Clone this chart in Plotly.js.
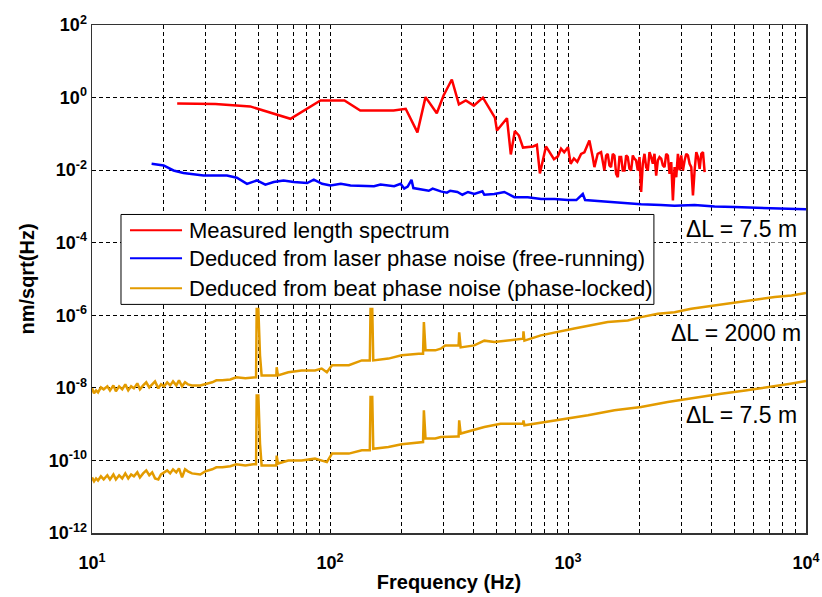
<!DOCTYPE html>
<html>
<head>
<meta charset="utf-8">
<script src="https://cdn.plot.ly/plotly-3.0.1.min.js"></script>
<style>html,body{margin:0;padding:0;background:#fff;}#chart{width:822px;height:597px;}</style>
</head>
<body>
<div id="chart"></div>
<script>
// Measured length spectrum (red)
var redFreq = [22.8, 28.5, 33, 46.2, 68.2, 91.2, 115, 134, 185, 208, 233, 252, 281, 300, 325, 348, 372, 402, 439, 493, 503, 554, 575, 598, 622, 647, 713, 740, 762, 808, 840, 873, 907,
  935, 964, 1000, 1026, 1059, 1094, 1135, 1172, 1230, 1270,
  1291, 1333, 1377, 1422, 1446, 1469, 1493, 1517, 1542, 1567, 1593, 1619, 1645, 1672, 1699, 1727, 1755, 1783, 1812, 1842, 1872, 1902, 1933, 1965, 1997, 2029, 2062, 2096, 2130, 2165, 2200, 2236, 2272, 2309, 2347, 2385, 2424, 2464, 2504, 2545, 2586, 2628, 2671, 2715, 2759, 2804, 2850, 2896, 2943, 2991, 3040, 3090, 3140, 3191, 3243, 3296, 3350, 3404, 3460, 3516, 3574, 3632, 3691, 3751];
var redVal = [0.69, 0.69, 0.66, 0.57, 0.26, 0.83, 0.83, 0.44, 0.44, 0.49, 0.11, 1.03, 0.37, 1.14, 3.15, 0.65, 0.83, 0.6, 1.0, 0.28, 0.124, 0.27, 0.027, 0.12, 0.09, 0.042, 0.045, 0.05, 0.0081, 0.045, 0.031, 0.02, 0.024,
  0.039, 0.031, 0.043, 0.015, 0.021, 0.017, 0.028, 0.031, 0.066, 0.023,
  0.0121, 0.0282, 0.0314, 0.0098, 0.0254, 0.0282, 0.0135, 0.0121, 0.0282, 0.0254, 0.0079, 0.0064, 0.0229, 0.0229, 0.0098, 0.0098, 0.0254, 0.0229, 0.0109, 0.0098, 0.0254, 0.0206, 0.0185, 0.0098, 0.0229, 0.0025, 0.015, 0.0282, 0.0121, 0.0098, 0.0314, 0.0229, 0.015, 0.0282, 0.0071, 0.0185, 0.0229, 0.0206, 0.0135, 0.0121, 0.0282, 0.0254, 0.0079, 0.0166, 0.00146, 0.0121, 0.0064, 0.0282, 0.0098, 0.0254, 0.0098, 0.0185, 0.0282, 0.0254, 0.015, 0.0121, 0.002, 0.0098, 0.0314, 0.0229, 0.0109, 0.0282, 0.0314, 0.0088];

// Deduced from laser phase noise, free-running (blue)
var blueFreq = [17.8, 20, 22, 24.2, 29.4, 36.9, 40.6, 44.8, 49.3, 53.5, 58, 63.8, 70.4, 80.2, 85.5, 92.7, 100.5, 111, 122, 153, 163, 186, 198, 205, 212, 220, 224, 248, 260, 270, 292, 310, 320, 343, 360, 380, 404, 437, 445, 490, 540, 595, 677, 771, 877, 1000, 1084, 1154, 1180, 1377, 1671, 2028, 2460, 2803, 3401, 4130, 5010, 6090, 7390, 8970, 10000];
var blueVal = [0.015, 0.0135, 0.0098, 0.0083, 0.0071, 0.0071, 0.0062, 0.0042, 0.0052, 0.004, 0.0047, 0.0052, 0.0047, 0.0044, 0.0055, 0.0042, 0.0038, 0.0042, 0.0038, 0.0036, 0.004, 0.0036, 0.0042, 0.0031, 0.0035, 0.0054, 0.0032, 0.0029, 0.0027, 0.0031, 0.0026, 0.0024, 0.0027, 0.0025, 0.0021, 0.0025, 0.0022, 0.0026, 0.0021, 0.0022, 0.0025, 0.0018, 0.0018, 0.0016, 0.0016, 0.0015, 0.0015, 0.0022, 0.0015, 0.0014, 0.00126, 0.00114, 0.0011, 0.00105, 0.0011, 0.001, 0.00096, 0.00092, 0.00088, 0.00085, 0.00083];

// Deduced from beat phase noise, phase-locked, dL = 2000 m (orange, upper)
var beat2000Freq = [10, 10.2, 10.4, 10.6, 10.9, 11.2, 11.6, 11.9, 12.3, 12.6, 13.0, 13.4, 13.8, 14.2, 14.6, 15.0, 15.5, 15.9, 16.4, 16.9, 17.4, 17.9, 18.4, 19.0, 19.5, 20.1, 20.7, 21.3, 21.9, 22.6, 23.2, 23.9, 24.6, 25.3, 26.3, 28.5, 29.9, 32.0, 33.3, 35.3, 38.1, 40.4, 44.1, 47.6, 48.9,
  49.2, 50, 50.8, 51.6, 56, 59.5, 59.7, 60.4, 66.8, 76, 86.5, 92.3, 97, 102, 120, 136, 147, 148, 150.5, 152, 176, 200, 236, 246, 248, 252, 277, 292, 305, 343, 347, 349, 354, 404, 445, 490, 557, 634, 648, 650, 656, 769, 904, 1062, 1250, 1469, 1783, 2028, 2385, 2803, 3294, 3873, 4552, 5350, 6290, 7390, 8690, 10000];
var beat2000Val = [9.7e-9, 7.05e-9, 8.5e-9, 7.5e-9, 1.03e-8, 9.1e-9, 1.1e-8, 8.5e-9, 1.17e-8, 8.0e-9, 1.1e-8, 9.1e-9, 1.25e-8, 8.5e-9, 1.1e-8, 9.7e-9, 1.33e-8, 9.1e-9, 1.17e-8, 1.42e-8, 1.03e-8, 1.25e-8, 1.51e-8, 9.7e-9, 1.25e-8, 1.1e-8, 1.42e-8, 1.17e-8, 1.51e-8, 1.17e-8, 1.61e-8, 1.1e-8, 1.42e-8, 1.25e-8, 1.17e-8, 1.17e-8, 1.25e-8, 1.42e-8, 1.61e-8, 1.61e-8, 1.71e-8, 1.95e-8, 1.83e-8, 1.95e-8, 1.95e-8,
  1.5e-6, 1.5e-6, 7.9e-8, 2.2e-8, 2.2e-8, 2.2e-8, 3.7e-8, 2.2e-8, 2.7e-8, 3.0e-8, 3.0e-8, 3.4e-8, 2.7e-8, 4.2e-8, 4.2e-8, 5.7e-8, 5.7e-8, 1.5e-6, 1.5e-6, 5.7e-8, 6.4e-8, 7.9e-8, 8.7e-8, 8.7e-8, 6.5e-7, 1.08e-7, 1.08e-7, 1.2e-7, 1.48e-7, 1.48e-7, 1.48e-7, 3.4e-7, 1.3e-7, 1.48e-7, 2.0e-7, 1.83e-7, 2.0e-7, 2.26e-7, 2.26e-7, 3.6e-7, 2.0e-7, 2.8e-7, 3.4e-7, 4.3e-7, 5.3e-7, 6.5e-7, 7.2e-7, 8.9e-7, 1.1e-6, 1.22e-6, 1.52e-6, 1.76e-6, 2.08e-6, 2.3e-6, 2.7e-6, 3.2e-6, 3.5e-6, 4.1e-6];

// Deduced from beat phase noise, phase-locked, dL = 7.5 m (orange, lower)
var beat75Freq = [10, 10.2, 10.4, 10.6, 10.9, 11.2, 11.6, 11.9, 12.3, 12.6, 13.0, 13.4, 13.8, 14.2, 14.6, 15.0, 15.5, 15.9, 16.4, 16.9, 17.4, 17.9, 18.4, 19.0, 19.5, 20.1, 20.7, 21.3, 21.9, 22.6, 23.2, 23.9, 24.6, 25.3, 26.3, 28.5, 29.9, 32.0, 33.3, 35.3, 38.1, 40.4, 44.1, 47.6, 48.9,
  49.2, 50, 50.8, 51.6, 56, 59.5, 59.7, 60.4, 66.8, 76, 86.5, 97, 102, 120, 136, 147, 148, 150.5, 152, 176, 200, 236, 246, 248, 252, 277, 292, 343, 347, 349, 354, 445, 521, 648, 650, 656, 797, 1000, 1213, 1568, 2028, 2624, 3400, 4400, 5560, 7080, 8600, 10000];
var beat75Val = [3.4e-11, 2.65e-11, 3.2e-11, 2.8e-11, 3.65e-11, 3.0e-11, 3.9e-11, 3.0e-11, 4.1e-11, 3.0e-11, 3.9e-11, 3.2e-11, 4.4e-11, 3.2e-11, 4.1e-11, 3.65e-11, 4.7e-11, 3.4e-11, 4.4e-11, 5.3e-11, 3.9e-11, 4.7e-11, 3.2e-11, 3.0e-11, 4.1e-11, 4.7e-11, 5.3e-11, 4.4e-11, 5.7e-11, 4.7e-11, 6.05e-11, 3.4e-11, 5.7e-11, 5.0e-11, 4.4e-11, 4.1e-11, 5.0e-11, 5.7e-11, 6.45e-11, 6.45e-11, 6.9e-11, 7.8e-11, 7.3e-11, 7.8e-11, 7.8e-11,
  6.2e-9, 6.2e-9, 2.9e-10, 7.3e-11, 7.3e-11, 7.3e-11, 1.36e-10, 8.2e-11, 1.0e-10, 1.0e-10, 1.12e-10, 9e-11, 1.54e-10, 1.54e-10, 1.9e-10, 1.9e-10, 5.6e-9, 5.6e-9, 2.1e-10, 2.34e-10, 2.8e-10, 3.2e-10, 3.2e-10, 2.4e-9, 4e-10, 4e-10, 4.4e-10, 4.6e-10, 4.6e-10, 1.27e-9, 5.5e-10, 8.3e-10, 1.03e-9, 1.03e-9, 1.27e-9, 9.3e-10, 1.14e-9, 1.42e-9, 1.75e-9, 2.4e-9, 2.96e-9, 4.1e-9, 5.4e-9, 6.9e-9, 8.5e-9, 1.05e-8, 1.3e-8, 1.54e-8];

// Legend / annotation texts
var seriesNames = ["Measured length spectrum", "Deduced from laser phase noise (free-running)", "Deduced from beat phase noise (phase-locked)"];
var seriesColors = ["#FF0000", "#0000FF", "#E39B00"];
var deltaLabels = ["\u0394L = 7.5 m", "\u0394L = 2000 m", "\u0394L = 7.5 m"];

// Axis ticks
var xTickVals = [10,20,30,40,50,60,70,80,90,100,200,300,400,500,600,700,800,900,1000,2000,3000,4000,5000,6000,7000,8000,9000,10000];
var xTickText = xTickVals.map(function(v){
  var e = Math.log10(v);
  return Math.abs(e - Math.round(e)) < 1e-9 ? "10<sup>" + Math.round(e) + "</sup>" : "";
});
var yExps = [-12,-10,-8,-6,-4,-2,0,2];
var yTickVals = yExps.map(function(e){ return Math.pow(10, e); });
var yTickText = yExps.map(function(e){ return "10<sup>" + e + "</sup>"; });

var FONT = "Liberation Sans, Arial, sans-serif";
var LW = 2.5;

var traces = [
  {x: redFreq, y: redVal, type: "scatter", mode: "lines", name: seriesNames[0], showlegend: false,
   line: {color: seriesColors[0], width: LW}},
  {x: blueFreq, y: blueVal, type: "scatter", mode: "lines", name: seriesNames[1], showlegend: false,
   line: {color: seriesColors[1], width: LW}},
  {x: beat2000Freq, y: beat2000Val, type: "scatter", mode: "lines", name: seriesNames[2], showlegend: false,
   line: {color: seriesColors[2], width: LW}},
  {x: beat75Freq, y: beat75Val, type: "scatter", mode: "lines", name: seriesNames[2], showlegend: false,
   line: {color: seriesColors[2], width: LW}}
];

// Hand-built legend box (paper coordinates)
var legBox = {x0: 0.0406, x1: 0.787, y0: 0.450, y1: 0.627};
var legRowsY = [0.596, 0.541, 0.482];
var shapes = [
  {type: "rect", xref: "paper", yref: "paper", x0: legBox.x0, x1: legBox.x1, y0: legBox.y0, y1: legBox.y1,
   fillcolor: "#fff", line: {color: "#000", width: 1}, layer: "above"}
];
var annotations = [];
for (var i = 0; i < seriesNames.length; i++) {
  shapes.push({type: "line", xref: "paper", yref: "paper", x0: 0.0532, x1: 0.1261, y0: legRowsY[i], y1: legRowsY[i],
    line: {color: seriesColors[i], width: 2}, layer: "above"});
  annotations.push({text: seriesNames[i], xref: "paper", yref: "paper", x: 0.133, y: legRowsY[i],
    xanchor: "left", yanchor: "middle", showarrow: false, font: {family: FONT, size: 22, color: "#000"}});
}
var deltaPos = [[0.989, 0.598], [0.995, 0.393], [0.989, 0.232]];
for (var j = 0; j < deltaLabels.length; j++) {
  annotations.push({text: deltaLabels[j], xref: "paper", yref: "paper", x: deltaPos[j][0], y: deltaPos[j][1],
    xanchor: "right", yanchor: "middle", showarrow: false, bgcolor: "#fff", borderpad: 0,
    font: {family: FONT, size: 23, color: "#000"}});
}

var gridDash = "4px,3px";
var layout = {
  width: 822, height: 597,
  margin: {l: 92, r: 16, t: 25, b: 64},
  paper_bgcolor: "#fff", plot_bgcolor: "#fff",
  font: {family: FONT, color: "#000"},
  showlegend: false,
  xaxis: {
    type: "log", range: [1, 4],
    tickvals: xTickVals, ticktext: xTickText,
    tickfont: {family: FONT, size: 18, weight: "bold"},
    ticks: "inside", ticklen: 4, tickcolor: "#000", ticklabelstandoff: 13,
    showgrid: true, gridcolor: "#000", gridwidth: 1, griddash: gridDash,
    showline: true, linecolor: "#333", linewidth: 1.5, mirror: "ticks",
    zeroline: false,
    title: {text: "Frequency (Hz)", font: {family: FONT, size: 20, weight: "bold"}, standoff: 3}
  },
  yaxis: {
    type: "log", range: [-12, 2],
    tickvals: yTickVals, ticktext: yTickText,
    tickfont: {family: FONT, size: 18, weight: "bold"},
    ticks: "inside", ticklen: 4, tickcolor: "#000",
    showgrid: true, gridcolor: "#000", gridwidth: 1, griddash: gridDash,
    showline: true, linecolor: "#333", linewidth: 1.5, mirror: "ticks",
    zeroline: false,
    title: {text: "nm/sqrt(Hz)", font: {family: FONT, size: 20, weight: "bold"}, standoff: 8}
  },
  shapes: shapes,
  annotations: annotations
};

Plotly.newPlot("chart", traces, layout, {displayModeBar: false, staticPlot: true});
</script>
</body>
</html>
